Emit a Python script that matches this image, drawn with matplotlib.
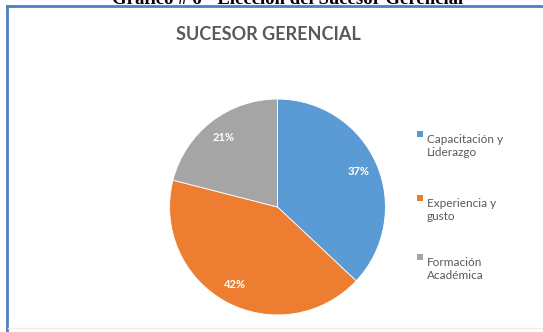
import matplotlib
matplotlib.use("Agg")
import matplotlib.pyplot as plt
from matplotlib.lines import Line2D
from matplotlib.patches import Rectangle

# datos del grafico
categorias = ["Capacitación y\nLiderazgo", "Experiencia y\ngusto", "Formación\nAcadémica"]
porcentajes = [37, 42, 21]
colores = ["#5B9BD5", "#ED7D31", "#A5A5A5"]

W, H = 543, 332
fig = plt.figure(figsize=(W / 100, H / 100), dpi=100)
fig.patch.set_facecolor("white")

def fx(px):
    return px / W

def fy(py):
    return 1 - py / H

# titulo del documento cortado arriba
fig.text(fx(288), fy(4), "Gráfico # 6 - Elección del Sucesor Gerencial",
         ha="center", va="baseline", fontsize=13.5, fontweight="bold",
         family="Liberation Serif", color="black")

# marco del grafico
fig.add_artist(Line2D([fx(7), fx(7)], [fy(6), fy(332)], color="#4F7FC0", lw=2))
fig.add_artist(Line2D([fx(7), fx(543)], [fy(6), fy(6)], color="#4F7FC0", lw=2))
fig.add_artist(Line2D([fx(8), fx(543)], [fy(328), fy(328)], color="#ededed", lw=1))

# titulo del grafico
fig.text(fx(268), fy(35), "SUCESOR GERENCIAL", ha="center", va="center",
         fontsize=13, fontweight="bold", family="Lato", color="#595959")

# pastel
cx, cy, r = 277.5, 207, 109
ax = fig.add_axes([fx(cx - r), fy(cy + r), 2 * r / W, 2 * r / H])
wedges, texts, autotexts = ax.pie(
    porcentajes, colors=colores, startangle=90, counterclock=False,
    autopct=lambda p: f"{p:.0f}%", pctdistance=0.82,
    wedgeprops=dict(edgecolor="white", linewidth=0.6),
    textprops=dict(color="white", fontsize=8, fontweight="bold", family="Lato"))
ax.set_xlim(-1.01, 1.01)
ax.set_ylim(-1.01, 1.01)
ax.axis("off")

# leyenda
leg_y = [134, 198, 257]
for etiqueta, color, y in zip(categorias, colores, leg_y):
    fig.add_artist(Rectangle((fx(417), fy(y + 3)), 6 / W, 6 / H,
                             facecolor=color, edgecolor="none",
                             transform=fig.transFigure))
    fig.text(fx(427), fy(y), etiqueta, ha="left", va="top",
             fontsize=8.5, family="Lato", color="#595959",
             linespacing=1.25, transform=fig.transFigure)

fig.savefig("out.png", dpi=100)
